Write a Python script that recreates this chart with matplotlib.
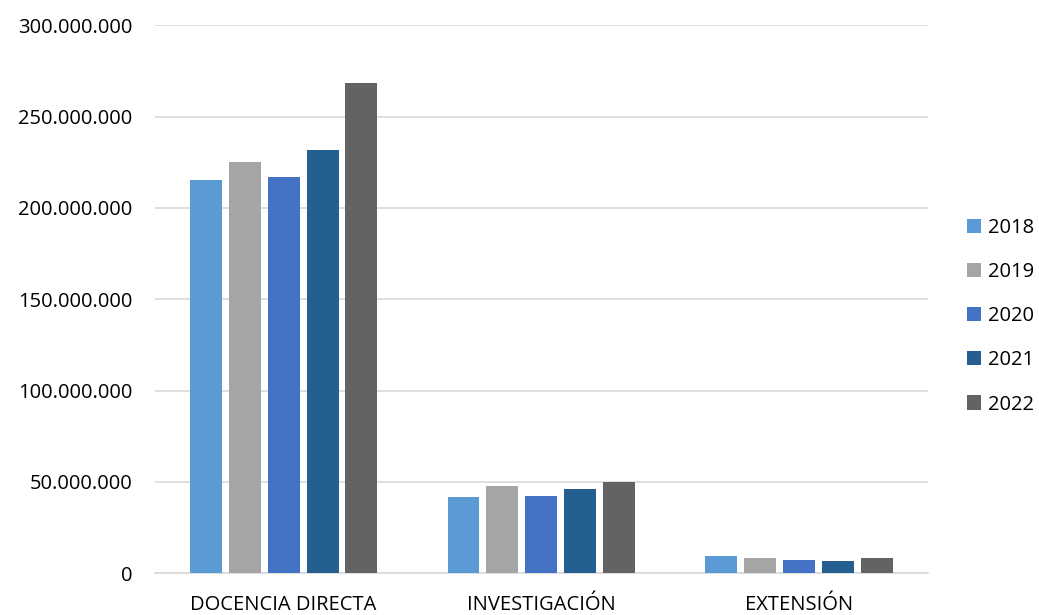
import numpy as np
import matplotlib.pyplot as plt
from matplotlib.ticker import FuncFormatter

# --- data ---
categories = ['DOCENCIA DIRECTA', 'INVESTIGACIÓN', 'EXTENSIÓN']
years = ['2018', '2019', '2020', '2021', '2022']
v2018 = [215.0e6, 41.9e6, 9.5e6]
v2019 = [225.2e6, 47.9e6, 8.2e6]
v2020 = [216.8e6, 42.0e6, 7.1e6]
v2021 = [231.6e6, 46.0e6, 6.7e6]
v2022 = [268.2e6, 50.1e6, 8.4e6]
series = [v2018, v2019, v2020, v2021, v2022]
colors = ['#5B9BD5', '#A5A5A5', '#4472C4', '#255E91', '#636363']

plt.rcParams['font.family'] = ['Open Sans', 'DejaVu Sans']

fig = plt.figure(figsize=(10.39, 6.15), dpi=100)
ax = fig.add_axes([0.149, 0.068, 0.744, 0.891])

x = np.arange(len(categories))
width = 0.124
step = 0.151
for i, (vals, col, yr) in enumerate(zip(series, colors, years)):
    ax.bar(x + (i - 2) * step, vals, width, color=col, label=yr, zorder=3)

ax.set_xlim(-0.5, 2.5)
ax.set_ylim(0, 300e6)
ax.set_yticks(np.arange(0, 300e6 + 1, 50e6))
ax.yaxis.set_major_formatter(FuncFormatter(lambda v, p: f'{int(v):,}'.replace(',', '.')))
ax.set_xticks(x)
ax.set_xticklabels(categories)

ax.grid(axis='y', color='#D9D9D9', linewidth=1.2, zorder=0)
for s in ['top', 'right', 'left']:
    ax.spines[s].set_visible(False)
ax.spines['bottom'].set_color('#D9D9D9')
ax.spines['bottom'].set_linewidth(1.2)
ax.tick_params(axis='both', length=0, labelsize=14.5, colors='#000000')
ax.tick_params(axis='y', pad=16)
ax.tick_params(axis='x', pad=16)

ax.legend(loc='center left', bbox_to_anchor=(1.04, 0.469), frameon=False,
          fontsize=14.5, handlelength=0.7, handleheight=0.7,
          handletextpad=0.35, labelspacing=1.2, borderaxespad=0)

fig.savefig('out.png', dpi=100)
